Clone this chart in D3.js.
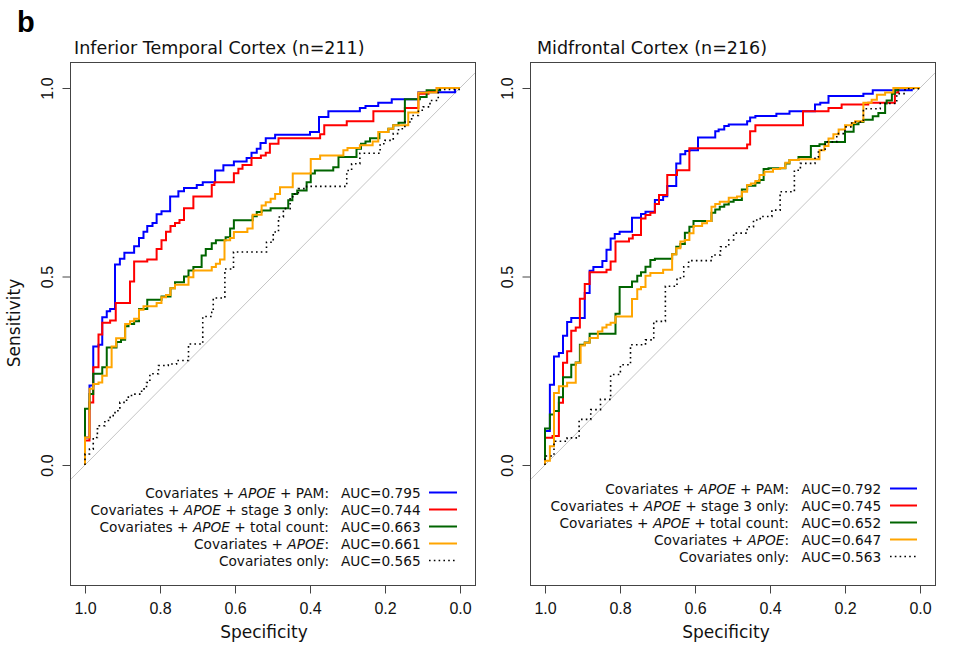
<!DOCTYPE html>
<html><head><meta charset="utf-8">
<script src="https://cdn.jsdelivr.net/npm/d3@7/dist/d3.min.js"></script>
<style>body{margin:0;background:#fff}svg text{white-space:pre}</style>
</head><body>
<svg id="c" width="955" height="650"></svg>
<script>
// ---------------- data ----------------
const panelTitles = ["Inferior Temporal Cortex (n=211)", "Midfrontal Cortex (n=216)"];
const specTicks = [1.0, 0.8, 0.6, 0.4, 0.2, 0.0];
const sensTicks = [0.0, 0.5, 1.0];
const legendPre = ["Covariates + ", "Covariates + ", "Covariates + ", "Covariates + ", "Covariates only:"];
const legendItalic = ["APOE", "APOE", "APOE", "APOE", ""];
const legendPost = [" + PAM:", " + stage 3 only:", " + total count:", ":", ""];
const itcAUC = ["0.795", "0.744", "0.663", "0.661", "0.565"];
const mfcAUC = ["0.792", "0.745", "0.652", "0.647", "0.563"];
const seriesColors = ["#0000ff", "#ff0000", "#006400", "#ffa500", "#000000"];

// Inferior temporal cortex
const itcPamSpec = [1,.988,.978,.964,.954,.942,.933,.920,.907,.895,.869,.856,.844,.834,.820,.809,.796,.773,.751,.736,.702,.686,.653,.631,.603,.569,.556,.542,.532,.518,.493,.400,.376,.351,.267,.252,.218,.182,.111,.013,0];
const itcPamSens = [0,.073,.211,.314,.319,.392,.408,.414,.532,.547,.563,.580,.602,.619,.634,.642,.665,.673,.712,.726,.735,.743,.750,.781,.795,.805,.814,.828,.839,.854,.867,.876,.883,.923,.938,.947,.952,.961,.970,.989,1];
const itcStage3Spec = [1,.988,.978,.964,.954,.933,.918,.880,.869,.834,.809,.796,.784,.772,.760,.748,.736,.711,.662,.655,.603,.591,.580,.556,.531,.518,.507,.484,.373,.362,.302,.231,.147,.111,.084,.062,0];
const itcStage3Sens = [0,.065,.166,.259,.346,.377,.383,.430,.487,.540,.545,.573,.596,.619,.634,.642,.650,.681,.712,.743,.750,.774,.786,.796,.814,.821,.828,.852,.867,.877,.901,.912,.938,.947,.985,.991,1];
const itcTotalSpec = [1,.988,.978,.954,.942,.916,.904,.893,.884,.869,.856,.834,.796,.772,.760,.736,.724,.711,.689,.678,.662,.651,.625,.613,.603,.553,.542,.529,.505,.458,.447,.434,.409,.398,.387,.338,.324,.276,.264,.252,.240,.215,.191,.178,.164,.147,.107,.089,.053,0];
const itcTotalSens = [0,.149,.188,.242,.259,.312,.326,.332,.368,.374,.381,.414,.438,.447,.469,.485,.500,.516,.525,.556,.573,.588,.596,.604,.627,.649,.660,.671,.675,.681,.702,.719,.728,.750,.773,.781,.790,.817,.839,.852,.858,.867,.883,.892,.901,.908,.970,.976,.994,1];
const itcApoeSpec = [1,.988,.978,.964,.954,.942,.929,.917,.893,.880,.869,.856,.844,.809,.796,.784,.772,.760,.724,.711,.662,.651,.640,.628,.613,.603,.567,.553,.529,.518,.505,.493,.480,.446,.398,.373,.311,.300,.267,.233,.218,.191,.178,.138,.111,.062,0];
const itcApoeSens = [0,.073,.202,.215,.219,.237,.259,.314,.336,.374,.381,.388,.412,.421,.430,.445,.451,.469,.478,.498,.516,.525,.534,.545,.596,.602,.618,.627,.664,.688,.697,.706,.719,.737,.773,.812,.821,.835,.841,.848,.858,.883,.892,.901,.935,.988,1];
const itcCovSpec = [1,.988,.978,.967,.962,.947,.933,.920,.907,.889,.876,.849,.836,.827,.804,.778,.756,.724,.686,.662,.658,.627,.604,.516,.498,.484,.471,.453,.446,.431,.409,.302,.289,.267,.213,.200,.178,.164,.147,.129,.111,.098,.080,.058,0,0];
const itcCovSens = [0,.029,.042,.073,.096,.104,.118,.131,.144,.166,.180,.188,.202,.219,.242,.264,.268,.277,.321,.394,.405,.443,.520,.565,.591,.618,.658,.680,.706,.719,.733,.739,.781,.799,.827,.852,.861,.879,.892,.910,.927,.941,.950,.967,.996,1];

// Midfrontal cortex
const mfcPamSpec = [1,.987,.976,.963,.952,.941,.930,.894,.881,.871,.847,.836,.825,.814,.801,.768,.744,.732,.707,.685,.674,.650,.639,.626,.615,.592,.546,.537,.522,.510,.461,.453,.439,.383,.348,.280,.266,.244,.151,.126,.022,0];
const mfcPamSens = [0,.090,.213,.288,.297,.343,.379,.390,.456,.515,.525,.541,.571,.601,.613,.619,.656,.666,.672,.703,.713,.740,.800,.824,.833,.835,.869,.885,.890,.899,.903,.912,.922,.926,.932,.938,.956,.961,.979,.985,.994,1];
const mfcStage3Spec = [1,.980,.963,.952,.941,.930,.918,.907,.894,.881,.836,.825,.812,.776,.766,.744,.732,.719,.707,.696,.674,.648,.615,.461,.453,.439,.312,.244,.209,.138,.067,.058,0];
const mfcStage3Sens = [0,.072,.077,.165,.271,.302,.356,.365,.441,.480,.511,.518,.540,.593,.601,.610,.654,.663,.669,.692,.716,.769,.782,.840,.850,.885,.901,.938,.947,.956,.961,.988,1];
const mfcTotalSpec = [1,.987,.976,.963,.952,.930,.918,.907,.894,.881,.812,.801,.768,.754,.744,.732,.719,.707,.661,.650,.639,.627,.615,.604,.556,.546,.534,.522,.510,.497,.475,.461,.439,.428,.417,.404,.359,.348,.324,.291,.268,.253,.200,.177,.164,.151,.126,.111,.093,.089,.075,.067,.058,0];
const mfcTotalSens = [0,.097,.134,.143,.180,.233,.266,.272,.319,.325,.348,.401,.472,.487,.502,.511,.526,.544,.547,.559,.579,.586,.616,.632,.647,.669,.678,.685,.691,.698,.703,.731,.741,.749,.756,.785,.787,.800,.809,.817,.846,.851,.857,.884,.904,.910,.916,.925,.934,.959,.967,.985,.994,1];
const mfcApoeSpec = [1,.987,.976,.963,.941,.918,.905,.894,.881,.859,.847,.836,.825,.812,.768,.754,.744,.732,.719,.685,.661,.650,.639,.627,.615,.604,.581,.568,.556,.546,.534,.510,.488,.475,.461,.451,.439,.428,.415,.392,.373,.359,.348,.324,.268,.255,.244,.231,.217,.200,.182,.173,.151,.129,.115,.093,.071,0];
const mfcApoeSens = [0,.011,.050,.191,.209,.218,.271,.317,.324,.337,.354,.365,.372,.377,.394,.440,.466,.472,.502,.509,.518,.559,.575,.593,.597,.615,.634,.641,.647,.685,.692,.698,.709,.712,.725,.743,.747,.753,.769,.778,.785,.788,.802,.809,.811,.835,.846,.866,.877,.890,.901,.907,.912,.961,.969,.982,.988,1];
const mfcCovSpec = [1,.976,.941,.909,.878,.852,.825,.799,.772,.732,.710,.679,.648,.630,.617,.555,.532,.510,.497,.461,.444,.426,.395,.373,.335,.319,.280,.271,.253,.222,.200,.182,.151,.106,.062,.040,0,0];
const mfcCovSens = [0,.024,.063,.072,.121,.147,.174,.240,.266,.319,.332,.381,.474,.496,.526,.542,.557,.579,.597,.615,.632,.650,.659,.676,.725,.782,.800,.817,.835,.857,.879,.897,.910,.945,.959,.985,.998,1];

// ---------------- layout ----------------
const svg = d3.select("#c");
const sans = "'DejaVu Sans', Verdana, sans-serif";
const arial = "'Liberation Sans', Arial, sans-serif";

const panels = [
  { title: panelTitles[0], titleX: 74, box: [70, 475, 62, 585], xr: [85, 460], auc: itcAUC,
    legendY: 492.5, labelEnd: 329, aucX: 341, lineX: [429, 457], specLabelX: 264, ylab: true,
    curves: [[itcPamSpec, itcPamSens], [itcStage3Spec, itcStage3Sens], [itcTotalSpec, itcTotalSens], [itcApoeSpec, itcApoeSens], [itcCovSpec, itcCovSens]] },
  { title: panelTitles[1], titleX: 537, box: [530, 935, 62, 585], xr: [545, 920], auc: mfcAUC,
    legendY: 488.5, labelEnd: 789, aucX: 801.5, lineX: [890, 917], specLabelX: 726, ylab: false,
    curves: [[mfcPamSpec, mfcPamSens], [mfcStage3Spec, mfcStage3Sens], [mfcTotalSpec, mfcTotalSens], [mfcApoeSpec, mfcApoeSens], [mfcCovSpec, mfcCovSens]] }
];

svg.append("text").attr("x", 17).attr("y", 32).attr("font-family", arial)
  .attr("font-weight", "bold").attr("font-size", 29).text("b");

panels.forEach(p => {
  const [bx0, bx1, by0, by1] = p.box;
  const x = d3.scaleLinear().domain([1, 0]).range(p.xr);
  const y = d3.scaleLinear().domain([0, 1]).range([465, 88]);
  const g = svg.append("g");

  // title
  g.append("text").attr("x", p.titleX).attr("y", 54).attr("font-family", sans)
    .attr("font-size", 17.5).attr("fill", "#111").text(p.title);

  // diagonal reference line
  g.append("line")
    .attr("x1", x(1.04)).attr("y1", y(-0.04)).attr("x2", x(-0.04)).attr("y2", y(1.04))
    .attr("stroke", "#c4c4c4").attr("stroke-width", 1);

  // curves
  const line = d3.line().x(d => x(d[0])).y(d => y(d[1])).curve(d3.curveStepBefore);
  p.curves.forEach((c, i) => {
    const pts = c[0].map((s, k) => [s, c[1][k]]);
    const path = g.append("path").attr("d", line(pts)).attr("fill", "none")
      .attr("stroke", seriesColors[i]).attr("stroke-width", i === 4 ? 1.6 : 2);
    if (i === 4) path.attr("stroke-dasharray", "1.6,3.2");
  });

  // box
  g.append("rect").attr("x", bx0 + 0.5).attr("y", by0 + 0.5)
    .attr("width", bx1 - bx0).attr("height", by1 - by0)
    .attr("fill", "none").attr("stroke", "#444").attr("stroke-width", 1);

  // y axis
  const ya = g.append("g").attr("transform", `translate(${bx0 + 0.5},0)`)
    .call(d3.axisLeft(y).tickValues(sensTicks).tickFormat(d3.format(".1f")).tickSize(8));
  ya.select(".domain").remove();
  ya.selectAll(".tick line").attr("stroke", "#444");
  ya.selectAll(".tick text").attr("font-family", arial).attr("font-size", 16).attr("fill", "#111")
    .attr("x", 0).attr("dy", 0).attr("text-anchor", "middle")
    .attr("transform", "translate(-18,0) rotate(-90)");

  // x axis
  const xa = g.append("g").attr("transform", `translate(0,${by1 + 0.5})`)
    .call(d3.axisBottom(x).tickValues(specTicks).tickFormat(d3.format(".1f")).tickSize(8));
  xa.select(".domain").remove();
  xa.selectAll(".tick line").attr("stroke", "#444");
  xa.selectAll(".tick text").attr("font-family", arial).attr("font-size", 16).attr("fill", "#111")
    .attr("y", 28).attr("dy", 0);

  g.append("text").attr("x", p.specLabelX).attr("y", 638).attr("text-anchor", "middle")
    .attr("font-family", sans).attr("font-size", 17).attr("fill", "#111").text("Specificity");

  if (p.ylab) {
    g.append("text").attr("transform", `translate(20,323) rotate(-90)`).attr("text-anchor", "middle")
      .attr("font-family", sans).attr("font-size", 17).attr("fill", "#111").text("Sensitivity");
  }

  // legend
  legendPre.forEach((pre, i) => {
    const cy = p.legendY + i * 17;
    const t = g.append("text").attr("x", p.labelEnd).attr("y", cy + 5).attr("text-anchor", "end")
      .attr("font-family", sans).attr("font-size", 13.7).attr("fill", "#111");
    t.append("tspan").text(pre);
    if (legendItalic[i]) t.append("tspan").attr("font-style", "italic").text(legendItalic[i]);
    if (legendPost[i]) t.append("tspan").text(legendPost[i]);
    g.append("text").attr("x", p.aucX).attr("y", cy + 5).attr("font-family", sans)
      .attr("font-size", 13.7).attr("fill", "#111").text("AUC=" + p.auc[i]);
    const l = g.append("line").attr("x1", p.lineX[0]).attr("x2", p.lineX[1])
      .attr("y1", cy).attr("y2", cy).attr("stroke", seriesColors[i])
      .attr("stroke-width", i === 4 ? 1.6 : 2);
    if (i === 4) l.attr("stroke-dasharray", "1.6,3.2");
  });
});
</script>
</body></html>
